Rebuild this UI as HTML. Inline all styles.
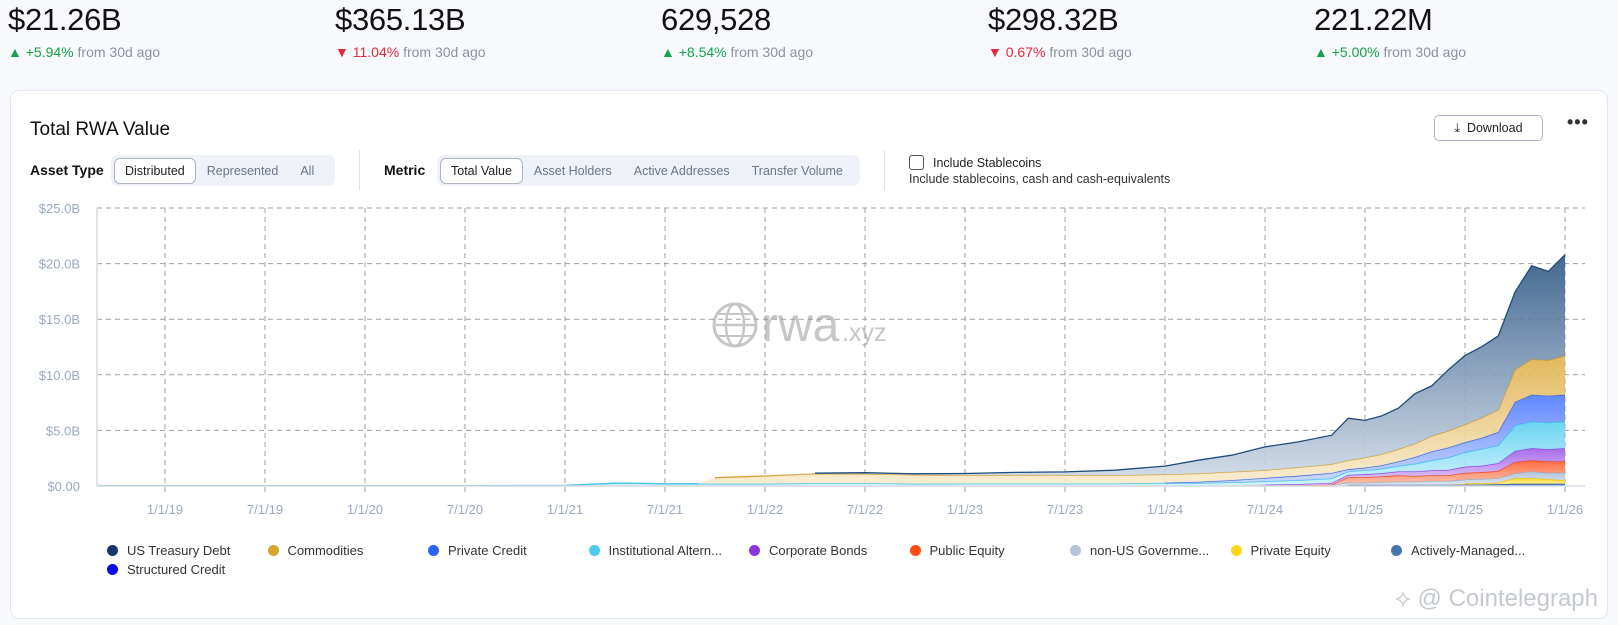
<!DOCTYPE html>
<html><head><meta charset="utf-8"><style>
*{box-sizing:border-box;margin:0;padding:0}
body{width:1618px;height:625px;background:#f7f9fc;font-family:"Liberation Sans",sans-serif;position:relative;overflow:hidden;color:#111}
.stat{position:absolute;top:2px}
.stat .v{font-size:31px;color:#111;letter-spacing:-0.3px}
.stat .c{font-size:14px;color:#8a93a3;margin-top:6px}
.up{color:#16a34a}.dn{color:#e5283a}
.card{position:absolute;left:10px;top:90px;width:1598px;height:529px;background:#fff;border:1px solid #e2e6ee;border-radius:9px}
.abs{position:absolute}
.seg{position:absolute;height:31px;background:#eef2f8;border-radius:7px;display:flex;align-items:center;padding:0 3px;font-size:12.5px;color:#6b7585}
.seg span{padding:6px 11px}
.seg .on{background:#fff;border:1px solid #aeb6c4;border-radius:6px;color:#222;padding:5px 10px}
.lbl{font-size:14px;font-weight:bold;color:#111}
.leg{position:absolute;font-size:13px;color:#333;display:flex;align-items:center}
.leg i{display:inline-block;width:11px;height:11px;border-radius:50%;margin-right:9px}
</style></head><body>
<div class="stat" style="left:8px"><div class="v">$21.26B</div><div class="c"><span class="up">▲ +5.94%</span> from 30d ago</div></div>
<div class="stat" style="left:335px"><div class="v">$365.13B</div><div class="c"><span class="dn">▼ 11.04%</span> from 30d ago</div></div>
<div class="stat" style="left:661px"><div class="v">629,528</div><div class="c"><span class="up">▲ +8.54%</span> from 30d ago</div></div>
<div class="stat" style="left:988px"><div class="v">$298.32B</div><div class="c"><span class="dn">▼ 0.67%</span> from 30d ago</div></div>
<div class="stat" style="left:1314px"><div class="v">221.22M</div><div class="c"><span class="up">▲ +5.00%</span> from 30d ago</div></div>

<div class="card"></div>
<div class="abs" style="left:30px;top:119px;font-size:19px;color:#111">Total RWA Value</div>
<div class="abs" style="left:1434px;top:115px;width:109px;height:26px;border:1px solid #aeb6c4;border-radius:5px;font-size:12.5px;color:#222;display:flex;align-items:center;justify-content:center">⤓&nbsp;&nbsp;Download</div>
<div class="abs" style="left:1567px;top:112px;font-size:18px;font-weight:bold;color:#333;letter-spacing:1px">•••</div>

<div class="abs lbl" style="left:30px;top:162px">Asset Type</div>
<div class="seg" style="left:111px;top:155px;width:224px">
<span class="on">Distributed</span><span>Represented</span><span>All</span></div>
<div class="abs" style="left:359px;top:150px;width:1px;height:40px;background:#dde2ea"></div>
<div class="abs lbl" style="left:384px;top:162px">Metric</div>
<div class="seg" style="left:437px;top:155px;width:423px">
<span class="on">Total Value</span><span>Asset Holders</span><span>Active Addresses</span><span>Transfer Volume</span></div>
<div class="abs" style="left:884px;top:150px;width:1px;height:40px;background:#dde2ea"></div>
<div class="abs" style="left:909px;top:155px;width:15px;height:15px;border:1.5px solid #555;border-radius:3px"></div>
<div class="abs" style="left:933px;top:156px;font-size:12.5px;color:#222">Include Stablecoins</div>
<div class="abs" style="left:909px;top:172px;font-size:12.5px;color:#333">Include stablecoins, cash and cash-equivalents</div>

<svg id="chart" class="abs" style="left:0;top:0" width="1618" height="625"></svg>

<div id="legend"></div>
<div class="abs" style="left:1395px;top:585px;font-size:24px;color:#c4c8cf">⟡ @ Cointelegraph</div>

<script>
const dates=["2018-09","2019-01","2019-07","2020-01","2020-07","2021-01","2021-04","2021-05","2021-07","2021-09","2021-10","2022-01","2022-04","2022-07","2022-10","2023-01","2023-04","2023-07","2023-10","2024-01","2024-03","2024-05","2024-07","2024-09","2024-11","2024-12","2025-01","2025-02","2025-03","2025-04","2025-05","2025-06","2025-07","2025-08","2025-09","2025-10","2025-11","2025-12","2026-01"];
const seriesNames=["Structured Credit","Actively-Managed...","Private Equity","non-US Governme...","Public Equity","Corporate Bonds","Institutional Altern...","Private Credit","Commodities","US Treasury Debt"];
const structuredCredit=[0,0,0,0,0,0,0,0,0,0,0,0,0,0,0,0,0,0,0,0,0,0,0,0,0,0.05,0.05,0.05,0.05,0.05,0.05,0.05,0.05,0.05,0.05,0.05,0.05,0.05,0.05];
const activelyManaged=[0,0,0,0,0,0,0,0,0,0,0,0,0,0,0,0,0,0,0,0,0,0,0,0,0,0.05,0.05,0.05,0.05,0.05,0.05,0.05,0.08,0.08,0.1,0.15,0.15,0.15,0.15];
const privateEquity=[0,0,0,0,0,0,0,0,0,0,0,0,0,0,0,0,0,0,0,0,0,0,0,0,0,0,0,0,0,0,0,0,0.1,0.1,0.15,0.5,0.5,0.4,0.3];
const nonUsGov=[0,0,0,0,0,0,0,0,0,0,0,0,0,0,0,0,0,0,0,0,0,0,0.05,0.05,0.1,0.2,0.2,0.25,0.3,0.3,0.35,0.35,0.35,0.4,0.4,0.45,0.6,0.6,0.7];
const publicEquity=[0,0,0,0,0,0,0,0,0,0,0,0,0,0,0,0.02,0.02,0.02,0.02,0.02,0.02,0.02,0.02,0.02,0.02,0.5,0.5,0.5,0.55,0.5,0.5,0.5,0.6,0.6,0.65,1.0,1.0,1.0,1.0];
const corporateBonds=[0,0,0,0,0,0,0,0,0,0,0,0,0,0,0,0,0,0,0,0,0,0,0.05,0.1,0.15,0.2,0.25,0.3,0.35,0.4,0.45,0.5,0.55,0.6,0.7,1.0,1.1,1.1,1.2];
const institutional=[0.03,0.03,0.03,0.03,0.03,0.05,0.25,0.25,0.2,0.2,0.2,0.2,0.25,0.25,0.2,0.2,0.2,0.2,0.2,0.25,0.25,0.3,0.3,0.35,0.4,0.3,0.35,0.4,0.5,0.7,0.9,1.1,1.3,1.5,1.6,2.3,2.4,2.4,2.4];
const privateCredit=[0,0,0,0,0,0,0,0,0,0,0,0,0,0,0,0,0,0,0,0.02,0.1,0.2,0.3,0.4,0.5,0.2,0.25,0.3,0.4,0.6,0.8,0.9,0.9,1.0,1.2,2.1,2.4,2.4,2.4];
const commodities=[0,0,0,0,0,0,0,0,0,0,0.55,0.7,0.85,0.85,0.8,0.75,0.75,0.75,0.75,0.75,0.75,0.75,0.7,0.75,0.8,0.8,0.9,1.0,1.1,1.2,1.4,1.5,1.6,1.8,2.0,2.9,3.2,3.2,3.5];
const usTreasury=[0,0,0,0,0,0,0,0,0,0,0,0,0.05,0.1,0.1,0.15,0.25,0.3,0.45,0.75,1.2,1.5,2.1,2.3,2.6,3.8,3.35,3.45,3.7,4.5,4.5,5.5,6.2,6.4,6.65,7.0,8.4,8.0,9.1];
const yTicks=[0,5,10,15,20,25];
const yTickLabels=["$0.00","$5.0B","$10.0B","$15.0B","$20.0B","$25.0B"];
const xTicks=["2019-01","2019-07","2020-01","2020-07","2021-01","2021-07","2022-01","2022-07","2023-01","2023-07","2024-01","2024-07","2025-01","2025-07","2026-01"];
const xTickLabels=["1/1/19","7/1/19","1/1/20","7/1/20","1/1/21","7/1/21","1/1/22","7/1/22","1/1/23","7/1/23","1/1/24","7/1/24","1/1/25","7/1/25","1/1/26"];

const seriesData=[structuredCredit,activelyManaged,privateEquity,nonUsGov,publicEquity,corporateBonds,institutional,privateCredit,commodities,usTreasury];
const fills=[["#1414e0","#6f6ff5"],["#3a6ea5","#9db6d2"],["#ffd820","#fff0a0"],["#a9bdd4","#dbe4ee"],["#ff5a2a","#ffc2ad"],["#a05de8","#e2cdf8"],["#5ccff0","#cdf2fc"],["#4f7bff","#c9d6ff"],["#e0b04a","#f8ecd0"],["#2f5886","#d3dde9"]];
const lines=["#1010d0","#2f5f96","#f2c400","#98aec8","#f04a1a","#8e46dc","#40c0e8","#3a66f2","#d4a437","#1f4a7a"];
const legendNames=["US Treasury Debt","Commodities","Private Credit","Institutional Altern...","Corporate Bonds","Public Equity","non-US Governme...","Private Equity","Actively-Managed...","Structured Credit"];
const legendColors=["#17386b","#d9a42f","#2d63f5","#4bcbee","#8a35e0","#ff4a12","#b3c4d8","#ffd61c","#4676ac","#0b0be8"];

const NS="http://www.w3.org/2000/svg";
const svg=document.getElementById('chart');
const X0=97,X1=1585,Y0=486,PXB=(486-208)/25;
function tYear(d){const [y,m]=d.split('-').map(Number);return y+(m-1)/12;}
function xs(d){return 165+200*(tYear(d)-2019);}
function ys(v){return Y0-v*PXB;}
function mk(tag,attrs){const e=document.createElementNS(NS,tag);for(const k in attrs)e.setAttribute(k,attrs[k]);return e;}

const defs=mk('defs',{});svg.appendChild(defs);
fills.forEach((f,i)=>{const g=mk('linearGradient',{id:'g'+i,x1:0,y1:0,x2:0,y2:1});
g.appendChild(mk('stop',{offset:'0','stop-color':f[0]}));g.appendChild(mk('stop',{offset:'1','stop-color':f[1]}));defs.appendChild(g);});

const wm=mk('g',{opacity:'0.55'});


wm.appendChild(mk('circle',{cx:735,cy:325,r:21,fill:'none',stroke:'#999','stroke-width':3}));
wm.appendChild(mk('ellipse',{cx:735,cy:325,rx:9,ry:21,fill:'none',stroke:'#999','stroke-width':2.5}));
wm.appendChild(mk('line',{x1:714,y1:325,x2:756,y2:325,stroke:'#999','stroke-width':2.5}));
wm.appendChild(mk('line',{x1:718,y1:314,x2:752,y2:314,stroke:'#999','stroke-width':2}));
wm.appendChild(mk('line',{x1:718,y1:336,x2:752,y2:336,stroke:'#999','stroke-width':2}));
const wt=mk('text',{x:762,y:341,'font-size':48,fill:'#999','font-family':'Liberation Sans, sans-serif'});wt.textContent='rwa';wm.appendChild(wt);
const wt2=mk('text',{x:842,y:341,'font-size':25,fill:'#999','font-family':'Liberation Sans, sans-serif'});wt2.textContent='.xyz';wm.appendChild(wt2);

yTicks.forEach((v,i)=>{
 if(v>0){const l=mk('line',{x1:X0,x2:X1,y1:ys(v),y2:ys(v),stroke:'#a0a0a0','stroke-dasharray':'5,4'});
 
 svg.appendChild(l);}
 const t=mk('text',{x:X0-17,y:ys(v)+5,'text-anchor':'end','font-size':13,fill:'#9aa8c0'});
 
 
 t.textContent=yTickLabels[i];svg.appendChild(t);});
xTicks.forEach((d,i)=>{
 const l=mk('line',{x1:xs(d),x2:xs(d),y1:ys(25),y2:Y0+8,stroke:'#a0a0a0','stroke-dasharray':'5,4'});
 
 svg.appendChild(l);
 const t=mk('text',{x:xs(d),y:Y0+28,'text-anchor':'middle','font-size':13,fill:'#9aa8c0'});
 
 
 t.textContent=xTickLabels[i];svg.appendChild(t);});
svg.appendChild(wm);

const cum=dates.map(()=>0);
seriesData.forEach((s,si)=>{
 const lower=cum.slice();const upper=cum.map((c,i)=>c+s[i]);
 upper.forEach((u,i)=>cum[i]=u);
 let top=dates.map((d,i)=>xs(d).toFixed(1)+','+ys(upper[i]).toFixed(1));
 let bot=dates.map((d,i)=>xs(d).toFixed(1)+','+ys(lower[i]).toFixed(1)).reverse();
 const p=mk('polygon',{points:top.concat(bot).join(' '),fill:'url(#g'+si+')','fill-opacity':0.9});
 
 
 svg.appendChild(p);
 const segs=[];let cur=[];
 s.forEach((v,i)=>{if(v>0||(i>0&&s[i-1]>0)){cur.push(top[i]);}else{if(cur.length>1)segs.push(cur);cur=[];}});
 if(cur.length>1)segs.push(cur);
 segs.forEach(sg=>{
 const l=mk('polyline',{points:sg.join(' '),fill:'none',stroke:lines[si],'stroke-width':1.3});
 
 
 svg.appendChild(l);});
});
const ax=mk('polyline',{points:`${X0},${ys(25)} ${X0},${Y0} ${X1},${Y0}`,fill:'none',stroke:'#d5dbe4','stroke-width':1.5});


svg.appendChild(ax);

const lg=document.getElementById('legend');
legendNames.forEach((n,i)=>{
 const d=document.createElement('div');d.className='leg';
 
 
 const col=i%9,row=Math.floor(i/9);
 d.style.left=(107+col*160.5)+'px';d.style.top=(543+row*19)+'px';
 d.innerHTML='<i style="background:'+legendColors[i]+'"></i>'+n;lg.appendChild(d);});
</script>
</body></html>
